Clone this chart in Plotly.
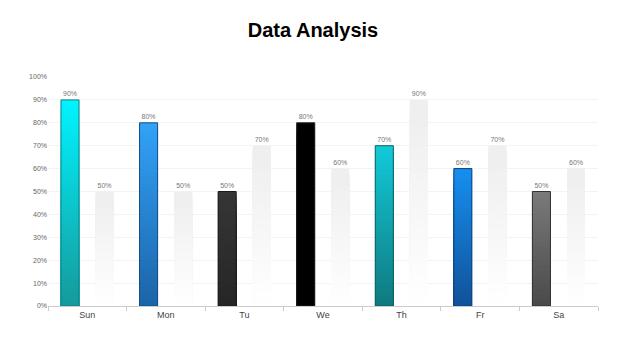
import plotly.graph_objects as go

categories = ["Sun", "Mon", "Tu", "We", "Th", "Fr", "Sa"]
primary = [90, 80, 50, 80, 70, 60, 50]
secondary = [50, 50, 70, 60, 90, 70, 60]
tick_vals = [0, 10, 20, 30, 40, 50, 60, 70, 80, 90, 100]
tick_text = [f"{v}%" for v in tick_vals]

# styles
top_colors = ["#00f4ff", "#32a2f8", "#363636", "#000000", "#12cad9", "#168ff0", "#7a7a7a"]
bottom_colors = ["#16999b", "#1c64a8", "#262626", "#000000", "#10797f", "#11529a", "#4a4a4a"]
line_colors = ["#0f7f82", "#154f86", "#1a1a1a", "#222222", "#0b5f64", "#0d3f78", "#333333"]
ghost_top = "#efefef"
ghost_bottom = "#ffffff"

N = 48
W = 0.23
OFF1 = -0.335
OFF2 = 0.105


def hex2rgb(h):
    h = h.lstrip("#")
    return tuple(int(h[i:i + 2], 16) for i in (0, 2, 4))


def mix(c1, c2, t):
    a, b = hex2rgb(c1), hex2rgb(c2)
    return "rgb({},{},{})".format(*[round(a[i] + (b[i] - a[i]) * t) for i in range(3)])


fig = go.Figure()

# gradient: overlapping bars from 0, tallest first (top colour), shorter ones drawn over them
for k in range(N - 1, -1, -1):
    t = (k + 0.5) / N
    fig.add_trace(go.Bar(
        x=categories,
        y=[v * (k + 1) / N for v in primary],
        offset=OFF1, width=W,
        marker=dict(color=[mix(b, tc, t) for b, tc in zip(bottom_colors, top_colors)],
                    line=dict(width=0)),
        hoverinfo="skip", showlegend=False,
    ))
    tg = min(1.0, t * 1.1)
    fig.add_trace(go.Bar(
        x=categories,
        y=[v * (k + 1) / N for v in secondary],
        offset=OFF2, width=W,
        marker=dict(color=mix(ghost_bottom, ghost_top, tg), line=dict(width=0)),
        hoverinfo="skip", showlegend=False,
    ))

# outlines + labels
fig.add_trace(go.Bar(
    x=categories, y=primary, offset=OFF1, width=W,
    marker=dict(color="rgba(0,0,0,0)", line=dict(color=line_colors, width=1)),
    text=[f"{v}%" for v in primary], textposition="outside",
    textfont=dict(size=7, color="#777777"), cliponaxis=False, showlegend=False,
))
fig.add_trace(go.Bar(
    x=categories, y=secondary, offset=OFF2, width=W,
    marker=dict(color="rgba(0,0,0,0)", line=dict(width=0)),
    text=[f"{v}%" for v in secondary], textposition="outside",
    textfont=dict(size=7, color="#777777"), cliponaxis=False, showlegend=False,
))

fig.update_layout(
    width=626, height=352,
    barmode="overlay",
    paper_bgcolor="white", plot_bgcolor="white",
    margin=dict(l=48, r=28, t=77, b=46),
    font=dict(family="Liberation Sans, Arial, sans-serif"),
    title=dict(text="<b>Data Analysis</b>", x=0.5, xanchor="center", y=0.915, yanchor="middle",
               font=dict(size=20, color="#000000")),
    xaxis=dict(
        type="category", tickson="boundaries", ticks="outside", ticklen=4,
        tickcolor="#cccccc", showline=True, linecolor="#cccccc", linewidth=1,
        showgrid=False, tickfont=dict(size=9, color="#444444"),
        range=[-0.5, 6.5],
    ),
    yaxis=dict(
        range=[0, 100], tickvals=tick_vals, ticktext=tick_text,
        tickfont=dict(size=7, color="#666666"), showgrid=True, gridcolor="#f3f3f3",
        gridwidth=1, zeroline=False, showline=False, ticks="",
    ),
)

fig.write_html("out.html")
